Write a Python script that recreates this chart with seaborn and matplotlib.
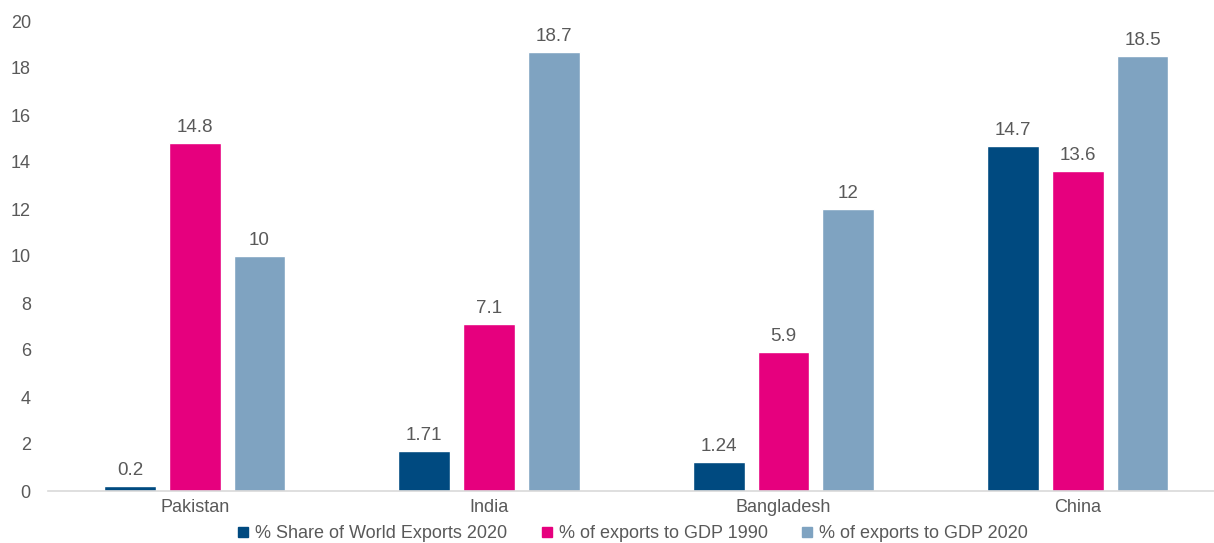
import matplotlib
matplotlib.use("Agg")
import matplotlib.pyplot as plt
import seaborn as sns
import pandas as pd
from matplotlib.lines import Line2D

countries = ["Pakistan", "India", "Bangladesh", "China"]
series = ["% Share of World Exports 2020", "% of exports to GDP 1990", "% of exports to GDP 2020"]
share_world_2020 = [0.2, 1.71, 1.24, 14.7]
exports_gdp_1990 = [14.8, 7.1, 5.9, 13.6]
exports_gdp_2020 = [10, 18.7, 12, 18.5]
value_labels = {
    series[0]: ["0.2", "1.71", "1.24", "14.7"],
    series[1]: ["14.8", "7.1", "5.9", "13.6"],
    series[2]: ["10", "18.7", "12", "18.5"],
}
colors = ["#004A80", "#E6007E", "#7FA3C1"]
text_color = "#595959"

df = pd.DataFrame({
    "country": countries * 3,
    "series": [series[0]] * 4 + [series[1]] * 4 + [series[2]] * 4,
    "value": share_world_2020 + exports_gdp_1990 + exports_gdp_2020,
})

sns.set_theme(style="white")
plt.rcParams["font.family"] = ["Liberation Sans", "DejaVu Sans"]

fig = plt.figure(figsize=(12.14, 5.43), dpi=100)
ax = fig.add_axes([47.5 / 1214, 52 / 543, 1177.5 / 1214, 470 / 543])

sns.barplot(data=df, x="country", y="value", hue="series", order=countries,
            hue_order=series, palette=colors, width=0.66, gap=0.2,
            saturation=1, legend=False, ax=ax)

for container, name in zip(ax.containers, series):
    ax.bar_label(container, labels=value_labels[name], padding=5,
                 fontsize=13.5, color=text_color)

ax.set_xlim(-0.5, 3.5)
ax.set_ylim(0, 20)
ax.set_yticks(range(0, 21, 2))
ax.set_xlabel("")
ax.set_ylabel("")
for side in ["top", "right", "left"]:
    ax.spines[side].set_visible(False)
ax.spines["bottom"].set_color("#D9D9D9")
ax.spines["bottom"].set_linewidth(1.2)
ax.tick_params(axis="both", length=0, labelsize=13, labelcolor=text_color)
ax.tick_params(axis="y", pad=12)
ax.tick_params(axis="x", pad=6)

handles = [Line2D([0], [0], marker="s", linestyle="", markersize=7,
                  markerfacecolor=c, markeredgecolor=c) for c in colors]
fig.legend(handles, series, loc="center", bbox_to_anchor=(632 / 1214, 1 - 534 / 543),
           ncol=3, frameon=False, fontsize=13, labelcolor=text_color,
           handletextpad=0.25, columnspacing=1.8, handlelength=0.8)

fig.savefig("out.png", dpi=100)
